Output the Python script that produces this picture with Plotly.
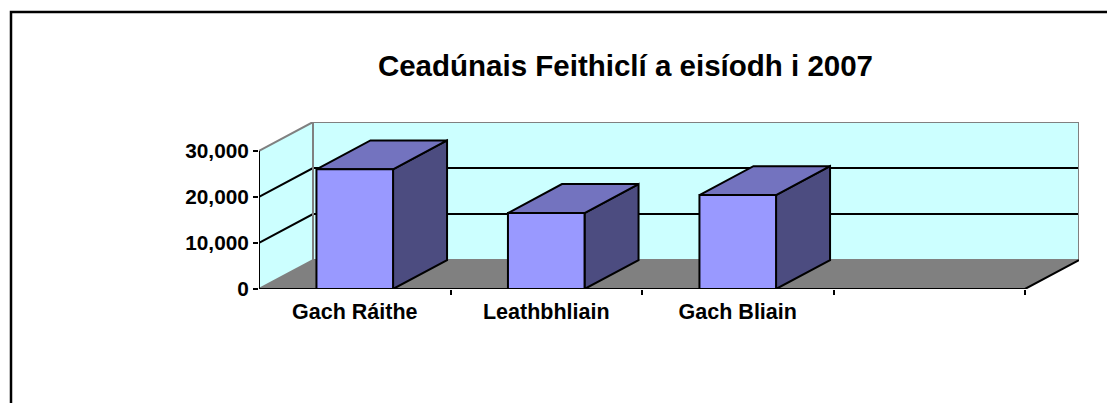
import plotly.graph_objects as go

# ---- data ----
categories = ["Gach Ráithe", "Leathbhliain", "Gach Bliain", ""]
values = [26000, 16500, 20400]
y_tick_vals = [0, 10000, 20000, 30000]
y_tick_text = ["0", "10,000", "20,000", "30,000"]
chart_title = "Ceadúnais Feithiclí a eisíodh i 2007"

# ---- 3D look (styles) ----
Y_MAX = 30000
SLOT_PX = 191.5
PX_PER_UNIT = 46.1 / 10000
DX = 54 / SLOT_PX            # depth in category units
DY = 29 / PX_PER_UNIT        # depth in value units
BAR_W = 0.40
N = len(categories)

WALL = "#CCFFFF"
FLOOR = "#808080"
EDGE = "#808080"
FRONT = "#9999FF"
TOP = "#7373BF"
SIDE = "#4C4C80"
FONT = "Arial, Liberation Sans, sans-serif"

fig = go.Figure()


def poly(xs, ys, fill, line_color="black", width=0):
    fig.add_trace(go.Scatter(
        x=list(xs) + [xs[0]], y=list(ys) + [ys[0]], mode="lines",
        fill="toself", fillcolor=fill,
        line=dict(color=line_color, width=width),
        hoverinfo="skip", showlegend=False, cliponaxis=False))


def line(xs, ys, color, width=2):
    fig.add_trace(go.Scatter(
        x=xs, y=ys, mode="lines", line=dict(color=color, width=width),
        hoverinfo="skip", showlegend=False, cliponaxis=False))


# walls and floor
poly([0, DX, DX, 0], [0, DY, Y_MAX + DY, Y_MAX], WALL)
poly([DX, N + DX, N + DX, DX], [DY, DY, Y_MAX + DY, Y_MAX + DY], WALL)
poly([0, N, N + DX, DX], [0, 0, DY, DY], FLOOR)

# gridlines
for v in y_tick_vals[1:-1]:
    line([0, DX, N + DX], [v, v + DY, v + DY], "black", 2)

# wall edges
line([0, DX, N + DX, N + DX, DX, DX, 0],
     [Y_MAX, Y_MAX + DY, Y_MAX + DY, DY, DY, Y_MAX + DY, Y_MAX], EDGE, 2)
line([0, DX], [0, DY], EDGE, 2)

# front axes lines
line([0, 0], [0, Y_MAX], "black", 2)
line([0, N, N + DX], [0, 0, DY], "black", 2)

# bars
for i, v in enumerate(values):
    x0 = i + 0.5 - BAR_W / 2
    x1 = i + 0.5 + BAR_W / 2
    poly([x1, x1 + DX, x1 + DX, x1], [0, DY, v + DY, v], SIDE, "black", 2)
    poly([x0, x1, x1 + DX, x0 + DX], [v, v, v + DY, v + DY], TOP, "black", 2)
    poly([x0, x1, x1, x0], [0, 0, v, v], FRONT, "black", 2)

L, R, T, B = 259, 28, 122, 114

fig.update_layout(
    width=1107, height=403,
    margin=dict(l=L, r=R, t=T, b=B, pad=0),
    paper_bgcolor="white", plot_bgcolor="white",
    showlegend=False,
    title=dict(text=chart_title, x=0.565, xref="container", xanchor="center",
               y=1 - 66 / 403, yref="container", yanchor="middle",
               font=dict(family=FONT, size=29.5, color="black", weight="bold")),
    xaxis=dict(range=[0, N + DX], tickmode="array",
               tickvals=[i + 0.5 for i in range(N)], ticktext=categories,
               ticks="", showgrid=False, zeroline=False, showline=False,
               ticklabelstandoff=7, automargin=False,
               minor=dict(tickmode="array", tickvals=list(range(1, N + 1)),
                          ticks="outside", ticklen=5, tickwidth=2,
                          tickcolor="black", showgrid=False),
               tickfont=dict(family=FONT, size=21.5, color="black", weight="bold"),
               fixedrange=True),
    yaxis=dict(range=[0, Y_MAX + DY], tickmode="array",
               tickvals=y_tick_vals, ticktext=y_tick_text,
               ticks="outside", ticklen=5, tickwidth=2, tickcolor="black",
               showgrid=False, zeroline=False, showline=False,
               automargin=False,
               tickfont=dict(family=FONT, size=20.8, color="black", weight="bold"),
               fixedrange=True),
    shapes=[dict(type="rect", xref="paper", yref="paper",
                 x0=(11 - L) / (1107 - L - R), x1=1.3,
                 y0=-1.5, y1=(403 - B - 12) / (403 - T - B),
                 line=dict(color="black", width=2.5), fillcolor="rgba(0,0,0,0)",
                 layer="below")],
)

fig.write_html("out.html", config={"displayModeBar": False},
               post_script="document.body.style.margin='0';")
